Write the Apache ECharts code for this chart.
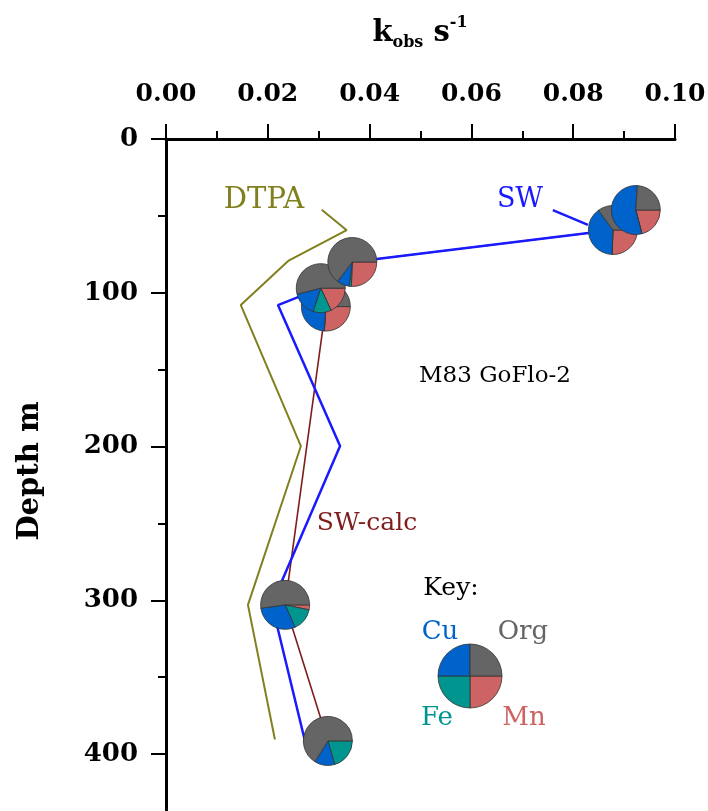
<!DOCTYPE html>
<html><head><meta charset="utf-8">
<script src="https://cdn.jsdelivr.net/npm/echarts@6/dist/echarts.min.js"></script>
<style>html,body{margin:0;padding:0;background:#fff}#c{width:708px;height:811px}</style>
</head><body><div id="c"></div>
<script>
// ---- data (k_obs in s^-1, depth in m) ----
const dtpaDepth = [46, 59.3, 79.3, 108, 199.7, 303, 390.6];
const dtpaK     = [0.0306, 0.0355, 0.0240, 0.0147, 0.0265, 0.0161, 0.0214];
const swDepth   = [59.2, 80, 97, 108, 199.7, 302.6, 391.5];
const swK       = [0.0878, 0.0366, 0.0304, 0.0220, 0.0342, 0.0208, 0.0273];
const calcDepth = [59.2, 80, 97, 109, 303, 391.5];
const calcK     = [0.0878, 0.0366, 0.0304, 0.0314, 0.0234, 0.0318];
const swLeaderDepth = [46.2, 55.9];
const swLeaderK     = [0.0760, 0.0829];
// pies (listed in drawing order)
const pieDepth = [59.2, 46.2, 109, 97, 80, 303, 391.5];
const pieK     = [0.0878, 0.0923, 0.0314, 0.0304, 0.0366, 0.0234, 0.0318];
const pieMn    = [25.5, 21, 26, 18, 25.6, 3.3, 0];
const pieFe    = [0, 0, 0, 12, 1.4, 15, 20.5];
const pieCu    = [39.5, 55, 26.7, 16, 8.3, 29.5, 13.3];
const pieOrg   = [35, 24, 47.3, 54, 64.7, 52.2, 66.2];
const keyShares = [25, 25, 25, 25];
const fractionNames = ['Mn', 'Fe', 'Cu', 'Org'];
const xTickDigits = 2;

const COL = {Mn:'#cd6363', Fe:'#00968f', Cu:'#0063cc', Org:'#656565'};
const FONT = 'DejaVu Serif';

const chart = echarts.init(document.getElementById('c'), null, {renderer:'canvas'});
const pairs = (xs, ys) => xs.map((x, i) => [x, ys[i]]);

const axisCommon = {
  axisLine: {onZero:false, lineStyle:{color:'#000', width:3}},
  axisTick: {show:true, length:15, lineStyle:{color:'#000', width:2}},
  minorTick: {show:true, splitNumber:2, length:8, lineStyle:{color:'#000', width:2}},
  splitLine: {show:false}
};

const lineSeries = [
  {name:'DTPA', data:pairs(dtpaK, dtpaDepth), color:'#80801f', width:2},
  {name:'SW-calc', data:pairs(calcK, calcDepth), color:'#7f1d1d', width:1.6},
  {name:'SW', data:pairs(swK, swDepth), color:'#1a1aff', width:2.5},
  {name:'SWleader', data:pairs(swLeaderK, swLeaderDepth), color:'#1a1aff', width:2.5}
].map(s => ({
  type:'line', name:s.name, data:s.data, symbol:'none', silent:true,
  lineStyle:{color:s.color, width:s.width}, z:2, animation:false
}));

chart.setOption({
  animation:false,
  grid:{left:166, top:139, width:509, height:768.75, outerBoundsMode:'none', containLabel:false},
  xAxis:Object.assign({
    type:'value', position:'top', min:0, max:0.1, interval:0.02,
    axisLabel:{formatter:v => v.toFixed(xTickDigits), fontFamily:FONT, fontWeight:'bold', fontSize:25, color:'#000', margin:32}
  }, axisCommon),
  yAxis:Object.assign({
    type:'value', inverse:true, min:0, max:500, interval:100,
    axisLabel:{fontFamily:FONT, fontWeight:'bold', fontSize:26, color:'#000', margin:28}
  }, axisCommon),
  series:lineSeries
});

const pies = pieDepth.map((d, i) => {
  const c = chart.convertToPixel({gridIndex:0}, [pieK[i], d]);
  const vals = [pieMn[i], pieFe[i], pieCu[i], pieOrg[i]];
  return {
    type:'pie', center:c, radius:24.5, startAngle:0, clockwise:true, silent:true,
    label:{show:false}, labelLine:{show:false}, emphasis:{disabled:true},
    z:5 + i, animation:false,
    itemStyle:{borderColor:'#333', borderWidth:0.8},
    data:vals.map((v, j) => ({name:fractionNames[j], value:v, itemStyle:{color:COL[fractionNames[j]]}}))
  };
});
pies.push({
  type:'pie', center:[470, 676], radius:32, startAngle:0, clockwise:true, silent:true,
  label:{show:false}, labelLine:{show:false}, emphasis:{disabled:true}, z:20, animation:false,
  itemStyle:{borderColor:'#333', borderWidth:0.8},
  data:keyShares.map((v, j) => ({name:fractionNames[j], value:v, itemStyle:{color:COL[fractionNames[j]]}}))
});

const txt = (text, x, y, color, size, extra) => ({
  type:'text', x:x, y:y, silent:true, z:50, rotation:(extra && extra.rotation) || 0,
  style:Object.assign({text:text, fill:color, fontSize:size, fontFamily:FONT, align:'center', verticalAlign:'middle'}, (extra && extra.style) || {})
});

chart.setOption({
  series:lineSeries.concat(pies),
  graphic:[
    {type:'text', x:420, y:33, silent:true, z:50,
     style:{text:'{k|k}{sub|obs}{s| s}{sup|-1}', align:'center', verticalAlign:'middle', fill:'#000',
       rich:{
         k:{fontSize:29, fontFamily:FONT, fontWeight:'bold', lineHeight:36, verticalAlign:'middle'},
         s:{fontSize:29, fontFamily:FONT, fontWeight:'bold', lineHeight:36, verticalAlign:'middle'},
         sub:{fontSize:16, fontFamily:FONT, fontWeight:'bold', lineHeight:16, verticalAlign:'bottom'},
         sup:{fontSize:16, fontFamily:FONT, fontWeight:'bold', lineHeight:16, verticalAlign:'top'}
       }}},
    txt('Depth m', 30, 471, '#000', 29, {rotation:Math.PI/2, style:{fontWeight:'bold'}}),
    txt('DTPA', 264, 200, '#80801f', 29),
    txt('SW', 520, 200, '#1a1aff', 27),
    txt('SW-calc', 367, 523, '#7f1d1d', 25),
    txt('M83 GoFlo-2', 495, 376, '#000', 23),
    txt('Key:', 451, 588, '#000', 25),
    txt('Cu', 440, 632, COL.Cu, 26),
    txt('Org', 523, 632, COL.Org, 26),
    txt('Fe', 437, 718, COL.Fe, 26),
    txt('Mn', 524, 718, COL.Mn, 26)
  ]
});
</script></body></html>
